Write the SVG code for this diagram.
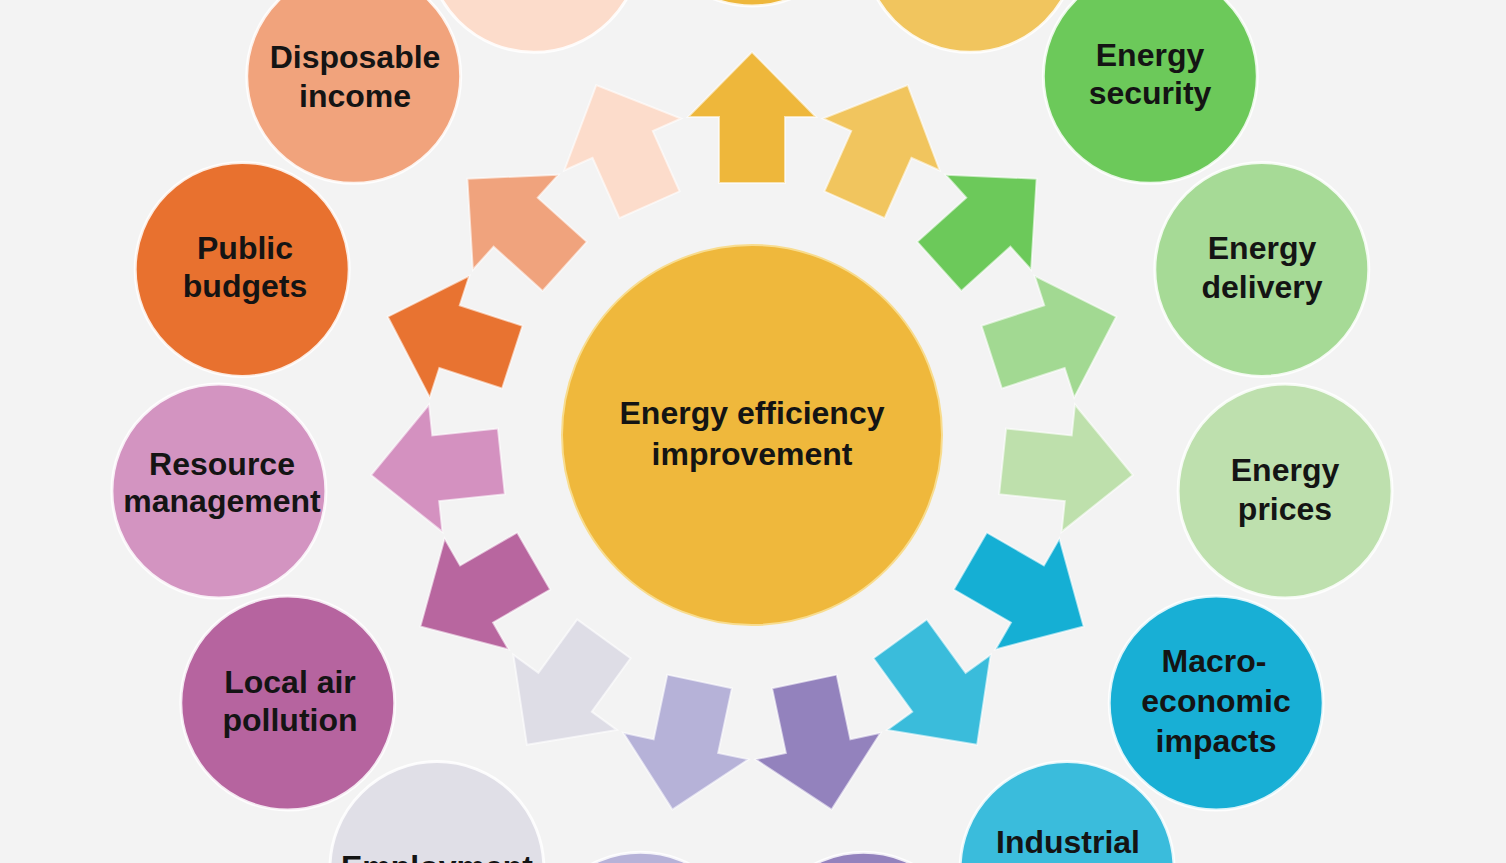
<svg xmlns="http://www.w3.org/2000/svg" width="1506" height="863" viewBox="0 0 1506 863">
<style>
.bg{fill:#F3F3F3}
.node{stroke:#FFFFFF;stroke-width:3;stroke-opacity:0.85}
.arr{stroke:#FFFFFF;stroke-width:2;stroke-opacity:0.6}
.lbl{font-family:"Liberation Sans",Arial,sans-serif;font-weight:bold;font-size:32px;fill:#141414;text-anchor:middle}
</style>
<defs>
<path id="arrow" d="M252,-33 H318 V-64 L383,0 L318,64 V33 H252 Z"/>
</defs>
<rect class="bg" x="0" y="0" width="1506" height="863"/>

<g id="connectors">
<use href="#arrow" class="arr" fill="#EEB73B" transform="translate(752 435) rotate(-90)"/>
<use href="#arrow" class="arr" fill="#F1C55E" transform="translate(752 435) rotate(-66)"/>
<use href="#arrow" class="arr" fill="#6CC95A" transform="translate(752 435) rotate(-42)"/>
<use href="#arrow" class="arr" fill="#A2D992" transform="translate(752 435) rotate(-18)"/>
<use href="#arrow" class="arr" fill="#BEE0AC" transform="translate(752 435) rotate(6)"/>
<use href="#arrow" class="arr" fill="#15AFD4" transform="translate(752 435) rotate(30)"/>
<use href="#arrow" class="arr" fill="#3ABCDB" transform="translate(752 435) rotate(54)"/>
<use href="#arrow" class="arr" fill="#9382BD" transform="translate(752 435) rotate(78)"/>
<use href="#arrow" class="arr" fill="#B6B2D8" transform="translate(752 435) rotate(102)"/>
<use href="#arrow" class="arr" fill="#DEDDE6" transform="translate(752 435) rotate(126)"/>
<use href="#arrow" class="arr" fill="#B8669F" transform="translate(752 435) rotate(150)"/>
<use href="#arrow" class="arr" fill="#D491C0" transform="translate(752 435) rotate(174)"/>
<use href="#arrow" class="arr" fill="#E87331" transform="translate(752 435) rotate(198)"/>
<use href="#arrow" class="arr" fill="#F0A37D" transform="translate(752 435) rotate(222)"/>
<use href="#arrow" class="arr" fill="#FCDCCB" transform="translate(752 435) rotate(246)"/>
</g>

<g id="center">
<circle cx="752" cy="435" r="190" fill="#EFB83C" stroke="#F8DC8E" stroke-width="2"/>
<text class="lbl" x="752" y="424">Energy efficiency</text>
<text class="lbl" x="752" y="465">improvement</text>
</g>

<g id="node-top">
<circle class="node" cx="752" cy="-101" r="107" fill="#EEB73B"/>
</g>
<g id="node-top-right">
<circle class="node" cx="970" cy="-54.7" r="107" fill="#F1C55E"/>
</g>
<g id="node-energy-security">
<circle class="node" cx="1150.3" cy="76.3" r="107" fill="#6CC95A"/>
<text class="lbl" x="1150" y="66">Energy</text>
<text class="lbl" x="1150" y="104">security</text>
</g>
<g id="node-energy-delivery">
<circle class="node" cx="1261.8" cy="269.4" r="107" fill="#A6DA96"/>
<text class="lbl" x="1262" y="259">Energy</text>
<text class="lbl" x="1262" y="298">delivery</text>
</g>
<g id="node-energy-prices">
<circle class="node" cx="1285.1" cy="491" r="107" fill="#BEE0AE"/>
<text class="lbl" x="1285" y="481">Energy</text>
<text class="lbl" x="1285" y="520">prices</text>
</g>
<g id="node-macro">
<circle class="node" cx="1216.2" cy="703" r="107" fill="#18AFD5"/>
<text class="lbl" x="1214" y="672">Macro-</text>
<text class="lbl" x="1216" y="712">economic</text>
<text class="lbl" x="1216" y="752">impacts</text>
</g>
<g id="node-industrial">
<circle class="node" cx="1067.1" cy="868.6" r="107" fill="#3ABCDC"/>
<text class="lbl" x="1068" y="853">Industrial</text>
</g>
<g id="node-bottom-right">
<circle class="node" cx="863.4" cy="959.3" r="107" fill="#9382BD"/>
</g>
<g id="node-bottom-left">
<circle class="node" cx="640.6" cy="959.3" r="107" fill="#B6B2D8"/>
</g>
<g id="node-employment">
<circle class="node" cx="436.9" cy="868.6" r="107" fill="#E0DFE7"/>
<text class="lbl" x="437" y="878">Employment</text>
</g>
<g id="node-local-air">
<circle class="node" cx="287.8" cy="703" r="107" fill="#B6649F"/>
<text class="lbl" x="290" y="693">Local air</text>
<text class="lbl" x="290" y="731">pollution</text>
</g>
<g id="node-resource">
<circle class="node" cx="218.9" cy="491" r="107" fill="#D394C1"/>
<text class="lbl" x="222" y="475">Resource</text>
<text class="lbl" x="222" y="512">management</text>
</g>
<g id="node-public-budgets">
<circle class="node" cx="242.2" cy="269.4" r="107" fill="#E8712F"/>
<text class="lbl" x="245" y="259">Public</text>
<text class="lbl" x="245" y="297">budgets</text>
</g>
<g id="node-disposable-income">
<circle class="node" cx="353.7" cy="76.3" r="107" fill="#F1A37C"/>
<text class="lbl" x="355" y="68">Disposable</text>
<text class="lbl" x="355" y="107">income</text>
</g>
<g id="node-top-left">
<circle class="node" cx="534" cy="-54.7" r="107" fill="#FCDCCB"/>
</g>
</svg>
